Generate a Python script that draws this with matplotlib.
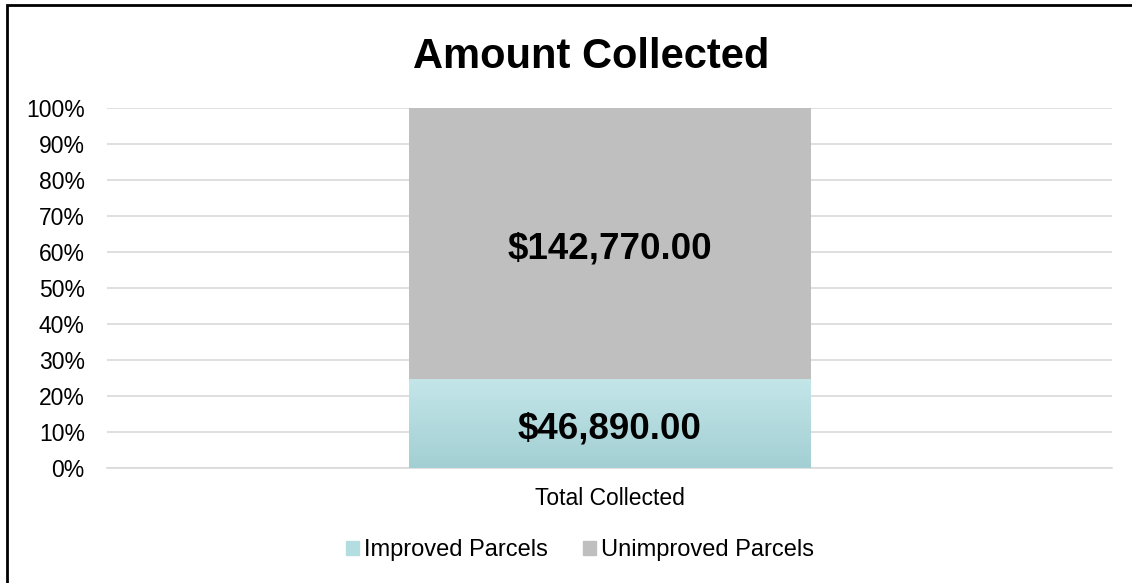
import numpy as np
import matplotlib.pyplot as plt
from matplotlib.patches import Rectangle
from matplotlib.colors import LinearSegmentedColormap

plt.rcParams['font.family'] = ['Liberation Sans', 'DejaVu Sans']

# data
categories = ['Total Collected']
series_names = ['Improved Parcels', 'Unimproved Parcels']
improved = [46890.00]
unimproved = [142770.00]
y_ticks = [0, 10, 20, 30, 40, 50, 60, 70, 80, 90, 100]

total = np.array(improved) + np.array(unimproved)
imp_pct = np.array(improved) / total * 100
unimp_pct = np.array(unimproved) / total * 100

W, H = 1132, 583
fig = plt.figure(figsize=(W / 100, H / 100), dpi=100)
ax = fig.add_axes([107 / W, 1 - 468 / H, (1112 - 107) / W, (468 - 108) / H])

x = np.arange(len(categories))
bars_imp = ax.bar(x, imp_pct, width=0.4, color='#B3DDE0', zorder=2, label=series_names[0])
bars_un = ax.bar(x, unimp_pct, width=0.4, bottom=imp_pct, color='#BFBFBF', zorder=2, label=series_names[1])

# gradient fill on the improved segment
cmap = LinearSegmentedColormap.from_list('tealgrad', ['#A2CFD3', '#C4E6E9'])
for b in bars_imp:
    x0, y0 = b.get_x(), b.get_y()
    w, h = b.get_width(), b.get_height()
    grad = np.linspace(0, 1, 256).reshape(-1, 1)
    im = ax.imshow(grad, extent=[x0, x0 + w, y0, y0 + h], origin='lower', aspect='auto', cmap=cmap, zorder=3)
    im.set_clip_path(b)

# value labels, nudged down a little like the original
for bars, vals in [(bars_imp, improved), (bars_un, unimproved)]:
    for b, v in zip(bars, vals):
        ax.annotate(f'${v:,.2f}', (b.get_x() + b.get_width() / 2, b.get_y() + b.get_height() / 2),
                    xytext=(0, -4), textcoords='offset points',
                    ha='center', va='center', fontsize=26.5, fontweight='bold', zorder=4)

ax.set_xlim(-0.5, 0.5)
ax.set_ylim(0, 100)
ax.set_yticks(y_ticks)
ax.set_yticklabels([f'{t}%' for t in y_ticks], fontsize=16.5)
ax.set_xticks(x)
ax.set_xticklabels(categories, fontsize=16.5)
ax.tick_params(axis='y', length=0, pad=16)
ax.tick_params(axis='x', length=0, pad=14)
ax.grid(axis='y', color='#D9D9D9', linewidth=1.2, zorder=0)
for s in ['top', 'right', 'left']:
    ax.spines[s].set_visible(False)
ax.spines['bottom'].set_color('#D9D9D9')
ax.spines['bottom'].set_linewidth(1.2)

fig.text(591 / W, 1 - 57 / H, 'Amount Collected', ha='center', va='center', fontsize=30, fontweight='bold')

handles = [Rectangle((0, 0), 1, 1, color='#B3DDE0'), Rectangle((0, 0), 1, 1, color='#BFBFBF')]
fig.legend(handles, series_names, loc='center', bbox_to_anchor=(580 / W, 1 - 550 / H), ncol=2,
           frameon=False, fontsize=17, handlelength=0.55, handleheight=0.55, handletextpad=0.2,
           columnspacing=1.5)

# outer chart border
fig.add_artist(Rectangle((7 / W, -0.5), 2, 0.5 + 1 - 5 / H, transform=fig.transFigure,
                         fill=False, edgecolor='black', linewidth=2))

fig.savefig('out.png', dpi=100)
